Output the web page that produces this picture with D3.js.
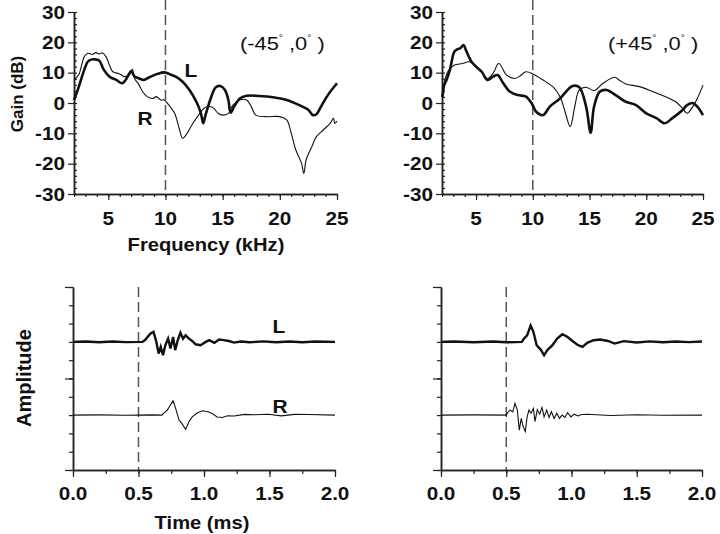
<!DOCTYPE html>
<html>
<head>
<meta charset="utf-8">
<script src="https://cdn.jsdelivr.net/npm/d3@7"></script>
<style>
body { margin: 0; background: #fff; }
svg { display: block; }
text { font-family: "Liberation Sans", Arial, sans-serif; fill: #111; }
</style>
</head>
<body>
<div id="chart"></div>
<script>
// tick values / labels
var gainTicks = [-30, -20, -10, 0, 10, 20, 30];
var freqTicks = [5, 10, 15, 20, 25];
var timeTicks = [0, 0.5, 1, 1.5, 2];
var timeLabels = ["0.0", "0.5", "1.0", "1.5", "2.0"];

// transfer functions [kHz, dB]
var specL_m45 = [[2,1],[2.3,4],[2.6,7.5],[2.9,11],[3.2,13.6],[3.5,14.3],[3.75,14.4],[4.2,14],[4.6,11],[5.1,8.7],[5.7,7.6],[6.2,6.5],[6.5,7.5],[6.8,9.5],[7.0,10.5],[7.3,8.7],[7.7,8.1],[8.1,7.6],[8.6,8.5],[9.3,9.6],[9.9,10.1],[10.3,9.6],[10.9,8.7],[11.5,7],[12.1,4.3],[12.7,0.4],[13.1,-3.4],[13.3,-6.7],[13.5,-4],[14,2],[14.4,5.2],[14.8,5.6],[15.2,4.3],[15.5,1],[15.7,-3.2],[16,-1.2],[16.5,1.5],[17.1,2.4],[18.2,2.3],[19.4,1.9],[20.6,1],[21.7,-0.7],[22.5,-2.3],[22.9,-4],[23.2,-3.7],[23.6,-1.2],[24.2,2.6],[25,6.5]];
var specR_m45 = [[2,7.6],[2.4,9.2],[2.7,13],[2.9,15.3],[3.2,16.4],[3.6,16],[3.9,16.6],[4.2,16.2],[4.5,16.5],[4.8,15.3],[5.1,12.5],[5.4,10.3],[6,9.6],[6.4,8.7],[6.8,9.2],[7.1,11.1],[7.3,8.1],[7.7,5.9],[8,3.7],[8.4,2.1],[8.9,1.5],[9.2,2.1],[9.6,1],[9.9,1],[10.3,-0.7],[10.8,-3.4],[11.2,-8.4],[11.5,-11.6],[11.8,-10.5],[12.4,-6.7],[13,-3.4],[13.5,-1.4],[14.1,-1.4],[14.6,-3.4],[15,-4],[15.5,-3.4],[15.9,-0.7],[16.5,1],[17.1,1],[17.5,-1.2],[17.9,-4],[18.8,-4.5],[20,-4.5],[20.6,-5.6],[21,-10],[21.4,-15.5],[21.9,-19.9],[22.1,-23.2],[22.3,-18.8],[22.8,-14.4],[23.2,-11.1],[23.8,-8.9],[24.4,-6.7],[24.7,-5],[24.8,-6.7],[25,-6]];
var specL_p45 = [[2.05,2],[2.2,6],[2.4,7.6],[2.7,11],[3.1,17],[3.4,17.8],[3.6,18],[3.9,19.1],[4.1,17.5],[4.6,13.6],[5,12],[5.5,10.3],[6,7.6],[6.5,8.7],[6.9,9.2],[7.4,6.5],[8,3.7],[8.7,2.6],[9.4,2.1],[9.9,-0.1],[10.3,-2.9],[10.9,-4],[11.5,-1.2],[12.4,1.5],[13.5,5.6],[14.1,5.2],[14.7,-1.2],[15.1,-9.8],[15.4,-1.2],[15.9,3.7],[16.5,4.3],[17.3,2.6],[18.2,0.4],[19.1,-0.7],[20,-3.4],[20.9,-5],[21.6,-6.7],[22.3,-5],[23.2,-2.3],[23.6,-0.7],[24.1,0],[24.5,-1.2],[25,-4]];
var specR_p45 = [[2,2],[2.5,10.3],[3.1,12.5],[3.8,13],[4.4,13.6],[4.9,12.5],[5.5,10.3],[6,8.1],[6.5,9.8],[7,13],[7.7,9.2],[8.4,8.1],[8.8,8.7],[9.4,10.3],[10,9.6],[10.9,7.6],[11.8,5.2],[12.4,2.1],[12.8,-2.3],[13.3,-7.8],[13.7,-1.2],[14.1,4.3],[14.7,5.2],[15.4,4.1],[16.2,6.5],[17.2,8.5],[17.6,7.6],[18.2,6.3],[19.4,5.4],[20.6,3.7],[21.7,2.1],[22.6,0.4],[23.2,-1.8],[23.6,-3.4],[24.1,-1.2],[24.5,1.5],[25,5.9]];

// impulse responses [ms, amplitude about baseline]
var irL_m45 = [[0,0],[0.1,0.02],[0.2,-0.02],[0.3,0.02],[0.4,-0.01],[0.53,0],[0.55,0.1],[0.59,0.45],[0.615,0.55],[0.636,0],[0.654,-0.64],[0.67,-0.27],[0.687,-0.73],[0.705,-0.18],[0.726,0.18],[0.744,-0.36],[0.764,0.27],[0.78,-0.45],[0.8,0.1],[0.82,0.5],[0.84,0.18],[0.86,0.36],[0.885,0.18],[0.91,0.05],[0.936,-0.13],[0.974,-0.18],[1.013,0],[1.04,0.1],[1.08,-0.05],[1.115,0.13],[1.15,0.1],[1.19,0.05],[1.23,-0.04],[1.28,0.02],[1.35,-0.02],[1.45,0.03],[1.55,-0.02],[1.65,0.02],[1.75,-0.02],[1.85,0.02],[2,0]];
var irR_m45 = [[0,0],[0.2,0.01],[0.4,-0.01],[0.6,0.01],[0.68,0],[0.69,0.1],[0.72,0.27],[0.744,0.55],[0.764,0.78],[0.78,0.45],[0.81,-0.27],[0.83,-0.45],[0.86,-0.78],[0.885,-0.36],[0.91,-0.1],[0.95,0.13],[0.99,0.24],[1.03,0.18],[1.06,0.1],[1.1,-0.1],[1.14,-0.13],[1.18,-0.04],[1.23,-0.05],[1.31,0.04],[1.38,0.02],[1.49,0.05],[1.59,-0.04],[1.69,0.04],[1.8,0.03],[2,0]];
var irL_p45 = [[0,0],[0.1,0.02],[0.25,-0.02],[0.4,0.02],[0.5,-0.02],[0.62,0],[0.636,0.18],[0.66,0.36],[0.687,0.9],[0.708,0.55],[0.733,-0.18],[0.764,-0.42],[0.79,-0.73],[0.815,-0.45],[0.854,-0.18],[0.89,0.18],[0.93,0.42],[0.97,0.27],[1.0,0.09],[1.05,-0.18],[1.085,-0.27],[1.12,-0.05],[1.17,0.09],[1.22,0.13],[1.28,0.05],[1.33,-0.09],[1.4,0.04],[1.5,-0.03],[1.6,0.03],[1.7,-0.02],[1.8,0.02],[1.9,-0.01],[2,0.02]];
var irR_p45 = [[0,0],[0.25,0.01],[0.5,0],[0.51,0.13],[0.53,0.27],[0.55,0.18],[0.567,0.64],[0.585,0.27],[0.6,-0.82],[0.615,-0.18],[0.63,-0.64],[0.646,-0.9],[0.66,-0.1],[0.674,0.27],[0.69,0.1],[0.708,0.36],[0.72,-0.36],[0.738,0.3],[0.756,0.05],[0.774,0.42],[0.79,-0.1],[0.81,0.27],[0.828,-0.13],[0.846,0.18],[0.867,-0.18],[0.887,0.1],[0.908,-0.18],[0.928,0],[0.949,-0.13],[0.97,0.13],[0.995,-0.1],[1.02,0.05],[1.05,-0.05],[1.07,0.02],[1.12,0.05],[1.3,-0.02],[1.5,0.02],[1.7,-0.01],[2,0]];

var svg = d3.select("#chart").append("svg")
        .attr("width", 720)
        .attr("height", 534);

// text helper, sx stretches glyphs horizontally like the original figure
function stext(g, x, y, str, size, weight, anchor, sx) {
    return g.append("text")
            .attr("transform", "translate(" + x + "," + y + ") scale(" + sx + ",1)")
            .attr("text-anchor", anchor)
            .style("font-size", size + "px")
            .style("font-weight", weight)
            .text(str);
}

function styleAxis(sel) {
    sel.select(".domain").attr("stroke", "#222").attr("stroke-width", 1.5);
    sel.selectAll(".tick line").attr("stroke", "#222").attr("stroke-width", 1.2);
}

function dashed(g, x, y1, y2) {
    g.append("line")
            .attr("x1", x).attr("x2", x)
            .attr("y1", y1).attr("y2", y2)
            .attr("stroke", "#555")
            .attr("stroke-width", 1.5)
            .attr("stroke-dasharray", "10,5");
}

function spectrumPanel(xr, thick, thin, angle) {
    var x = d3.scaleLinear().domain([2, 25]).range(xr);
    var y = d3.scaleLinear().domain([-30, 30]).range([194, 12]);
    var g = svg.append("g");

    dashed(g, x(10), 0, y(-30));

    // y axis: majors outward, minors inward
    g.append("g").attr("transform", "translate(" + xr[0] + ",0)")
            .call(d3.axisLeft(y).tickValues(d3.range(-30, 31, 2)).tickSize(-3).tickSizeOuter(0).tickFormat(""))
            .call(styleAxis);
    g.append("g").attr("transform", "translate(" + xr[0] + ",0)")
            .call(d3.axisLeft(y).tickValues(gainTicks).tickSize(6).tickSizeOuter(0).tickFormat(""))
            .call(styleAxis);
    // x axis
    g.append("g").attr("transform", "translate(0," + y(-30) + ")")
            .call(d3.axisBottom(x).tickValues(d3.range(2, 26, 1)).tickSize(3).tickSizeOuter(0).tickFormat(""))
            .call(styleAxis);
    g.append("g").attr("transform", "translate(0," + y(-30) + ")")
            .call(d3.axisBottom(x).tickValues(freqTicks).tickSize(6).tickSizeOuter(0).tickFormat(""))
            .call(styleAxis);

    gainTicks.forEach(function (v) {
        stext(g, xr[0] - 9, y(v) + 6.5, String(v), 18, "bold", "end", 1.15);
    });
    freqTicks.forEach(function (v) {
        stext(g, x(v), 225, String(v), 18, "bold", "middle", 1.15);
    });

    var line = d3.line()
            .x(function (d) { return x(d[0]); })
            .y(function (d) { return y(d[1]); })
            .curve(d3.curveCatmullRom.alpha(0.5));
    g.append("path").datum(thin).attr("d", line)
            .attr("fill", "none").attr("stroke", "#111").attr("stroke-width", 1.1);
    g.append("path").datum(thick).attr("d", line)
            .attr("fill", "none").attr("stroke", "#111").attr("stroke-width", 2.6);

    // angle annotation with small raised degree rings
    var t = g.append("text")
            .attr("transform", "translate(" + (xr[0] + 166) + ",50) scale(1.15,1)")
            .style("font-size", "19px");
    t.append("tspan").text("(" + angle);
    t.append("tspan").attr("dy", -9).style("font-size", "9px").text("\u00b0");
    t.append("tspan").attr("dy", 9).text(" ,0");
    t.append("tspan").attr("dy", -9).style("font-size", "9px").text("\u00b0");
    t.append("tspan").attr("dy", 9).text(" )");
    return g;
}

function impulsePanel(xr, thick, thin) {
    var x = d3.scaleLinear().domain([0, 2]).range(xr);
    var y = d3.scaleLinear().domain([0, 10]).range([470, 287]);
    var g = svg.append("g");

    dashed(g, x(0.5), y(10), y(0));

    g.append("g").attr("transform", "translate(" + xr[0] + ",0)")
            .call(d3.axisLeft(y).tickValues(d3.range(0, 11, 1)).tickSize(4).tickSizeOuter(0).tickFormat(""))
            .call(styleAxis);
    g.append("g").attr("transform", "translate(" + xr[0] + ",0)")
            .call(d3.axisLeft(y).tickValues([0, 5, 10]).tickSize(8).tickSizeOuter(0).tickFormat(""))
            .call(styleAxis);
    g.append("g").attr("transform", "translate(0," + y(0) + ")")
            .call(d3.axisBottom(x).tickValues(d3.range(0, 2.01, 0.25)).tickSize(4).tickSizeOuter(0).tickFormat(""))
            .call(styleAxis);
    g.append("g").attr("transform", "translate(0," + y(0) + ")")
            .call(d3.axisBottom(x).tickValues(timeTicks).tickSize(7).tickSizeOuter(0).tickFormat(""))
            .call(styleAxis);

    timeTicks.forEach(function (v, i) {
        stext(g, x(v), 500, timeLabels[i], 18, "bold", "middle", 1.15);
    });

    function trace(data, base) {
        return d3.line()
                .x(function (d) { return x(d[0]); })
                .y(function (d) { return y(base + d[1]); })(data);
    }
    g.append("path").attr("d", trace(thick, 7))
            .attr("fill", "none").attr("stroke", "#111").attr("stroke-width", 2.4);
    g.append("path").attr("d", trace(thin, 3))
            .attr("fill", "none").attr("stroke", "#111").attr("stroke-width", 1.1);
    return g;
}

var tl = spectrumPanel([74, 337], specL_m45, specR_m45, "-45");
var tr = spectrumPanel([442, 703], specL_p45, specR_p45, "+45");
var bl = impulsePanel([73, 335], irL_m45, irR_m45);
var br = impulsePanel([441, 702], irL_p45, irR_p45);

// curve labels
stext(tl, 191, 77, "L", 19, "bold", "middle", 1.1);
stext(tl, 145, 125, "R", 19, "bold", "middle", 1.1);
stext(bl, 279, 333, "L", 19, "bold", "middle", 1.1);
stext(bl, 280, 413, "R", 19, "bold", "middle", 1.1);

// axis titles
stext(svg, 206, 251, "Frequency (kHz)", 18, "bold", "middle", 1.12);
stext(svg, 202, 529, "Time (ms)", 18, "bold", "middle", 1.12);
svg.append("text")
        .attr("transform", "translate(23,94) rotate(-90)")
        .attr("text-anchor", "middle")
        .style("font-size", "17px").style("font-weight", "bold")
        .text("Gain (dB)");
svg.append("text")
        .attr("transform", "translate(31,378) rotate(-90)")
        .attr("text-anchor", "middle")
        .style("font-size", "20px").style("font-weight", "bold")
        .text("Amplitude");
</script>
</body>
</html>
